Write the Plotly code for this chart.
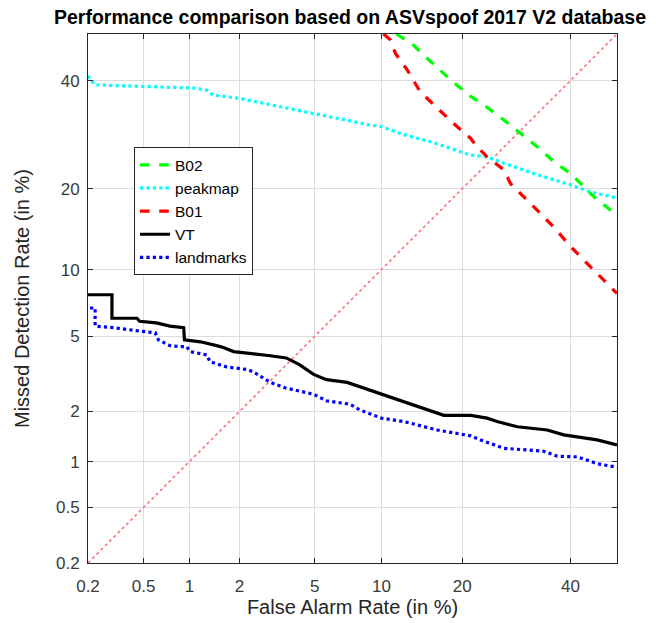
from statistics import NormalDist
import plotly.graph_objects as go

# DET curves, rates in percent
b02_fa = [11.5, 13.4, 14.6, 18.3, 21.3, 23.4, 26.9, 30.0, 33.2, 36.5, 40.0, 42.9, 45.0, 50.0]
b02_md = [50.0, 47.6, 45.5, 40.1, 36.7, 35.0, 32.0, 29.5, 27.0, 24.4, 22.4, 20.3, 18.8, 16.2]

peak_fa = [0.2, 0.207, 0.226, 0.53, 1.11, 1.28, 1.40, 2.0, 3.35, 4.94, 7.1, 9.0, 10.0, 12.3,
           15.5, 18.3, 21.3, 24.0, 26.9, 33.2, 40.0, 44.3, 50.0]
peak_md = [41.0, 40.3, 39.1, 38.7, 38.4, 38.0, 37.0, 36.3, 34.6, 33.3, 32.0, 31.0, 30.7, 29.2,
           27.9, 26.7, 25.5, 25.2, 24.1, 22.2, 20.6, 19.5, 18.6]

b01_fa = [10.2, 10.9, 11.4, 12.7, 14.2, 16.4, 18.7, 21.3, 22.3, 24.0, 26.9, 28.1, 30.0, 33.2,
          36.5, 40.0, 42.9, 46.5, 50.0]
b01_md = [50.0, 48.7, 45.8, 42.2, 37.7, 34.3, 31.3, 28.5, 27.0, 25.2, 23.0, 20.8, 19.3, 16.9,
          14.7, 12.4, 10.9, 9.3, 7.9]

vt_fa = [0.2, 0.30, 0.30, 0.45, 0.47, 0.61, 0.75, 0.87, 0.92, 0.93, 1.17, 1.47, 1.61, 1.85,
         2.4, 2.96, 3.6, 4.2, 4.94, 5.7, 7.1, 8.4, 10.0, 10.9, 14.2, 17.3, 21.3, 24.0, 25.7,
         29.4, 35.2, 38.6, 45.7, 50.0]
vt_md = [7.8, 7.8, 6.1, 6.1, 5.9, 5.8, 5.6, 5.5, 5.5, 4.8, 4.7, 4.5, 4.4, 4.2,
         4.1, 4.0, 3.9, 3.6, 3.2, 3.0, 2.9, 2.7, 2.5, 2.4, 2.1, 1.9, 1.9, 1.83, 1.75,
         1.63, 1.56, 1.46, 1.36, 1.27]

lm_fa = [0.207, 0.226, 0.226, 0.31, 0.47, 0.60, 0.63, 0.75, 0.87, 0.96, 1.01, 1.28, 1.34,
         1.69, 2.2, 2.4, 2.96, 3.6, 4.94, 5.7, 7.3, 8.1, 10.0, 12.3, 16.4, 21.3, 22.9, 26.9,
         34.5, 37.3, 41.5, 45.7, 50.0]
lm_md = [6.8, 6.8, 5.6, 5.5, 5.3, 5.2, 4.8, 4.5, 4.45, 4.45, 4.2, 4.04, 3.73,
         3.5, 3.4, 3.3, 2.9, 2.7, 2.5, 2.3, 2.2, 2.04, 1.83, 1.75, 1.56, 1.44, 1.36, 1.21,
         1.16, 1.08, 1.07, 0.97, 0.92]

diag = [0.2, 50.0]
tick_vals = [0.2, 0.5, 1, 2, 5, 10, 20, 40]
tick_text = ["0.2", "0.5", "1", "2", "5", "10", "20", "40"]
lim = [0.2, 50.0]

nd = NormalDist()


def probit(vals):
    return [nd.inv_cdf(v / 100.0) for v in vals]


fig = go.Figure()

fig.add_trace(go.Scatter(x=probit(diag), y=probit(diag), mode="lines", showlegend=False,
                         line=dict(color="#ff7070", width=1.6, dash="dot")))

series = [
    ("B02", b02_fa, b02_md, "#00ff00", "dash"),
    ("peakmap", peak_fa, peak_md, "#00ffff", "dot"),
    ("B01", b01_fa, b01_md, "#ff0000", "dash"),
    ("VT", vt_fa, vt_md, "#000000", "solid"),
    ("landmarks", lm_fa, lm_md, "#0000ff", "dot"),
]
for name, fa, md, col, dash in series:
    fig.add_trace(go.Scatter(x=probit(fa), y=probit(md), mode="lines", name=name,
                             line=dict(color=col, width=3.2, dash=dash)))

axis_common = dict(
    range=probit(lim),
    tickvals=probit(tick_vals),
    ticktext=tick_text,
    showgrid=True,
    gridcolor="#dcdcdc",
    gridwidth=1,
    zeroline=False,
    showline=True,
    linecolor="#262626",
    linewidth=1,
    mirror="ticks",
    ticks="inside",
    ticklen=5,
    tickcolor="#262626",
    automargin=False,
    tickfont=dict(family="Liberation Sans, Arial", size=17, color="#3a3a3a"),
    title_font=dict(family="Liberation Sans, Arial", size=20, color="#262626"),
)

fig.update_xaxes(title_text="False Alarm Rate (in %)", title_standoff=4,
                 ticklabelstandoff=8, **axis_common)
fig.update_yaxes(title_text="Missed Detection Rate (in %)", title_standoff=20,
                 ticklabelstandoff=4, **axis_common)

fig.update_layout(
    width=656,
    height=623,
    margin=dict(l=88, r=39, t=34, b=60),
    paper_bgcolor="white",
    plot_bgcolor="white",
    title=dict(text="<b>Performance comparison based on ASVspoof 2017 V2 database</b>",
               x=350 / 656, xanchor="center", y=1 - 17 / 623, yanchor="middle",
               font=dict(family="Liberation Sans, Arial", size=19.5, color="#000000")),
    legend=dict(x=0.087, y=0.786, xanchor="left", yanchor="top",
                bgcolor="white", bordercolor="#262626", borderwidth=1,
                font=dict(family="Liberation Sans, Arial", size=15.5, color="#000000"),
                tracegroupgap=0),
)

fig.write_html("out.html")
